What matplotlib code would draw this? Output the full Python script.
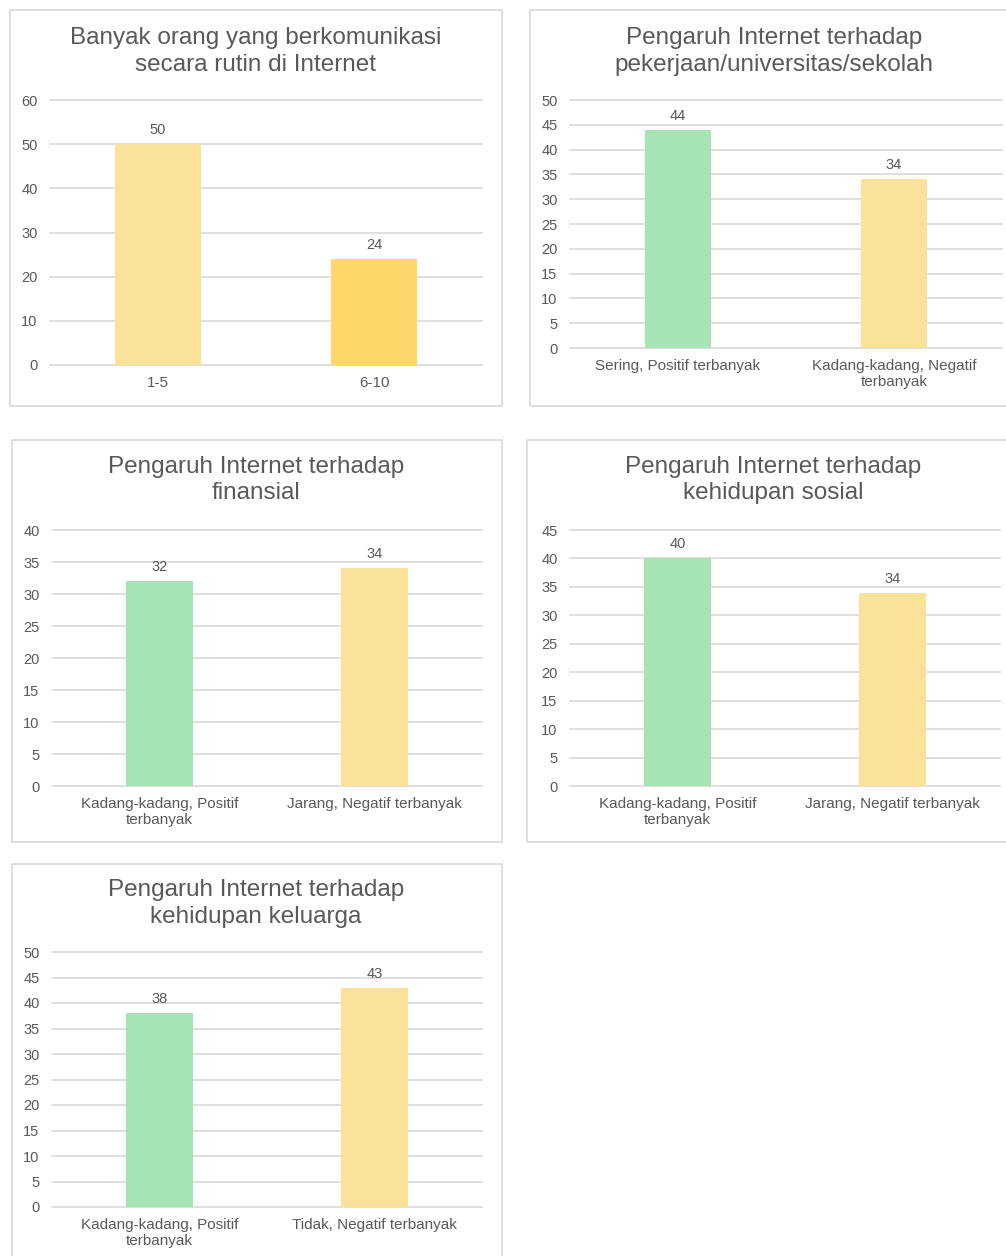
import numpy as np
import matplotlib.pyplot as plt
from matplotlib.patches import Rectangle

plt.rcParams['font.family'] = ['Liberation Sans', 'DejaVu Sans']

W, H = 1006, 1256

hijau = '#A6E3B5'
kuning = '#FAE29B'
kuning_tua = '#FDD76A'
abu = '#595959'
garis = '#D9D9D9'

# data tiap grafik
judul1 = 'Banyak orang yang berkomunikasi\nsecara rutin di Internet'
kategori1 = ['1-5', '6-10']
nilai1 = [50, 24]

judul2 = 'Pengaruh Internet terhadap\npekerjaan/universitas/sekolah'
kategori2 = ['Sering, Positif terbanyak', 'Kadang-kadang, Negatif\nterbanyak']
nilai2 = [44, 34]

judul3 = 'Pengaruh Internet terhadap\nfinansial'
kategori3 = ['Kadang-kadang, Positif\nterbanyak', 'Jarang, Negatif terbanyak']
nilai3 = [32, 34]

judul4 = 'Pengaruh Internet terhadap\nkehidupan sosial'
kategori4 = ['Kadang-kadang, Positif\nterbanyak', 'Jarang, Negatif terbanyak']
nilai4 = [40, 34]

judul5 = 'Pengaruh Internet terhadap\nkehidupan keluarga'
kategori5 = ['Kadang-kadang, Positif\nterbanyak', 'Tidak, Negatif terbanyak']
nilai5 = [38, 43]


def px(x0, y0, x1, y1):
    # kotak piksel -> koordinat figure
    return [x0 / W, 1 - y1 / H, (x1 - x0) / W, (y1 - y0) / H]


fig = plt.figure(figsize=(W / 100, H / 100), dpi=100)


def grafik(kotak, area, pos_judul, judul, kategori, nilai, warna, ymax, step, lebar):
    # bingkai grafik
    fig.patches.append(Rectangle((kotak[0] / W, 1 - kotak[3] / H),
                                 (kotak[2] - kotak[0]) / W, (kotak[3] - kotak[1]) / H,
                                 transform=fig.transFigure, fill=False,
                                 edgecolor=garis, linewidth=1.2))
    fig.text(pos_judul[0] / W, 1 - pos_judul[1] / H, judul, ha='center', va='center',
             fontsize=17.5, color=abu, linespacing=1.25)

    ax = fig.add_axes(px(*area))
    x = np.arange(len(kategori))
    bars = ax.bar(x, nilai, width=lebar, color=warna, zorder=2)
    for b, v in zip(bars, nilai):
        ax.annotate(str(v), (b.get_x() + b.get_width() / 2, v), xytext=(0, 5),
                    textcoords='offset points', ha='center', va='bottom',
                    fontsize=10.5, color=abu)
    ax.set_xlim(-0.5, len(kategori) - 0.5)
    ax.set_ylim(0, ymax)
    ax.set_yticks(np.arange(0, ymax + 1, step))
    ax.set_xticks(x)
    ax.set_xticklabels(kategori, linespacing=1.2)
    ax.tick_params(axis='y', length=0, pad=9, labelsize=10.5, labelcolor=abu)
    ax.tick_params(axis='x', length=0, pad=8, labelsize=11, labelcolor=abu)
    for s in ax.spines.values():
        s.set_visible(False)
    ax.yaxis.grid(True, color=garis, linewidth=1.2)
    ax.set_axisbelow(True)
    for g in ax.get_ygridlines():
        g.set_clip_on(False)
    return ax


grafik((10, 10, 502, 406), (50, 100, 482, 365), (256, 51.5),
       judul1, kategori1, nilai1, [kuning, kuning_tua], 60, 10, 0.4)
grafik((530, 10, 1020, 406), (570, 100, 1002, 348), (774, 51.5),
       judul2, kategori2, nilai2, [hijau, kuning], 50, 5, 0.31)
grafik((12, 440, 502, 842), (52, 530, 482, 786), (256, 480),
       judul3, kategori3, nilai3, [hijau, kuning], 40, 5, 0.31)
grafik((527, 440, 1020, 842), (570, 530, 1000, 786), (773, 480),
       judul4, kategori4, nilai4, [hijau, kuning], 45, 5, 0.31)
grafik((12, 864, 502, 1270), (52, 952, 482, 1207), (256, 903.5),
       judul5, kategori5, nilai5, [hijau, kuning], 50, 5, 0.31)

fig.savefig('out.png', dpi=100, facecolor='white')
